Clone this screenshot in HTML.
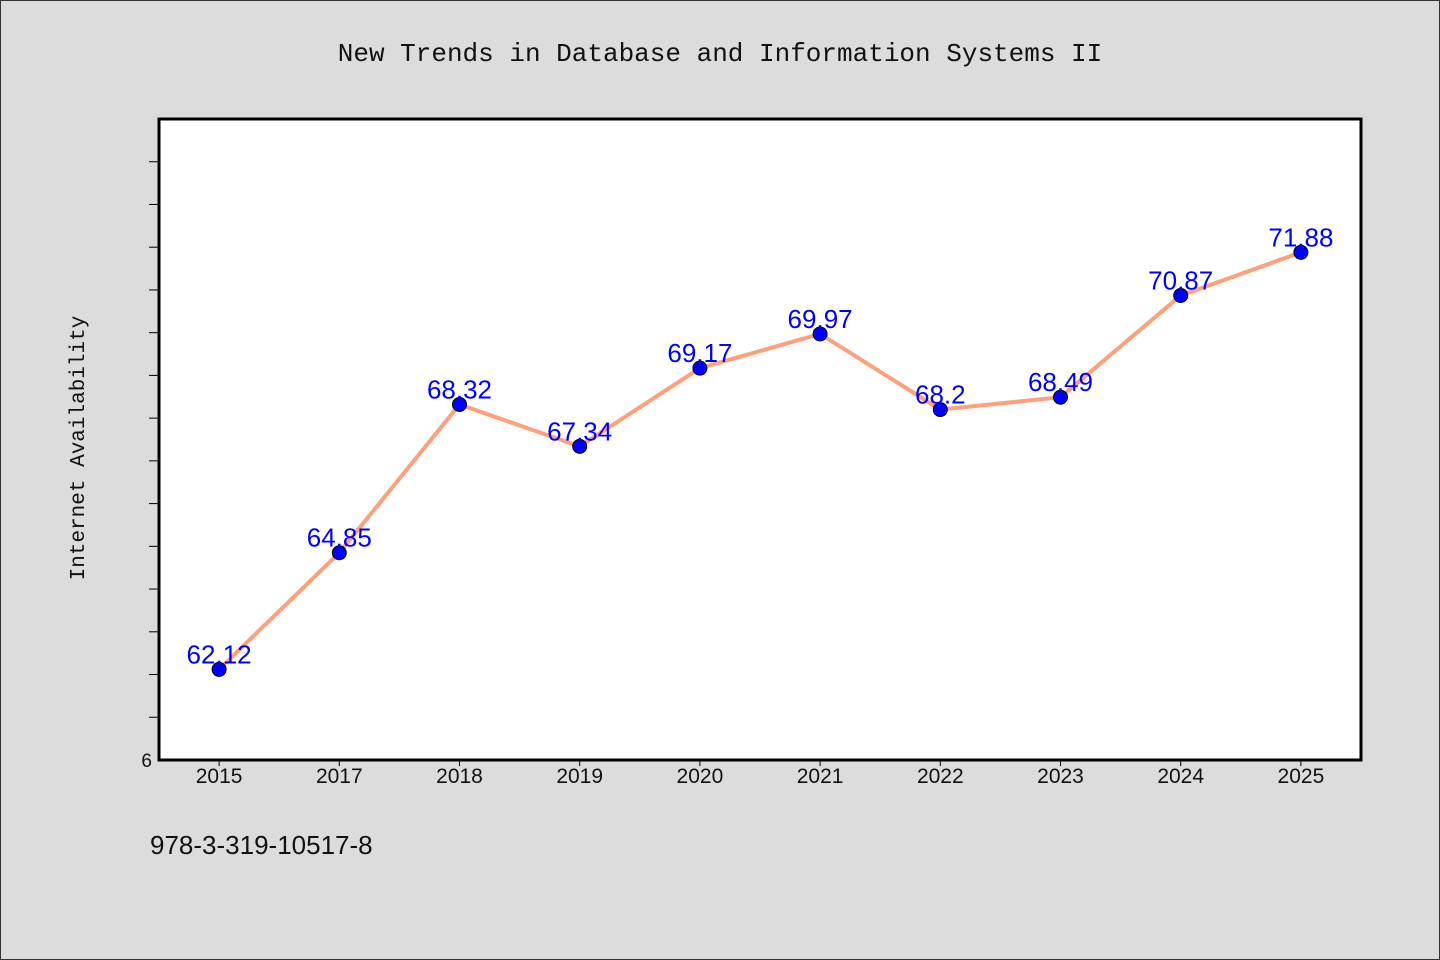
<!DOCTYPE html>
<html><head><meta charset="utf-8"><style>
body{margin:0;background:#dcdcdc;}
svg{display:block;}
</style></head><body>
<svg width="1440" height="960" xmlns="http://www.w3.org/2000/svg">
<rect x="0.5" y="0.5" width="1439" height="959" fill="#dcdcdc" stroke="#333"/>
<text x="720" y="61" text-anchor="middle" font-family="Liberation Mono, monospace" font-size="26" fill="#111">New Trends in Database and Information Systems II</text>
<rect x="159" y="119" width="1202" height="641" fill="#fff" stroke="#000" stroke-width="3"/>
<text transform="translate(84,448) rotate(-90)" text-anchor="middle" font-family="Liberation Mono, monospace" font-size="21" fill="#111">Internet Availability</text>
<text x="150" y="854" font-family="Liberation Sans, sans-serif" font-size="26" fill="#111">978-3-319-10517-8</text>
<g id="ticks"></g><g id="marks"></g>
</svg>
<script>
const categories=["2015","2017","2018","2019","2020","2021","2022","2023","2024","2025"];
const values=[62.12,64.85,68.32,67.34,69.17,69.97,68.2,68.49,70.87,71.88];
const labels=["62.12","64.85","68.32","67.34","69.17","69.97","68.2","68.49","70.87","71.88"];
const yMin=60,yMax=75;
const L=159,R=1361,T=119,B=760;
const NS="http://www.w3.org/2000/svg";
const bw=(R-L)/categories.length;
const x=i=>L+bw*(i+0.5);
const y=v=>B-(v-yMin)/(yMax-yMin)*(B-T);
function mk(t,a,p){const e=document.createElementNS(NS,t);for(const k in a)e.setAttribute(k,a[k]);p.appendChild(e);return e;}
const tk=document.getElementById('ticks'),mg=document.getElementById('marks');
for(let v=yMin+1;v<yMax;v++){
 const l=mk('line',{x1:149,x2:159,y1:y(v),y2:y(v),stroke:'#000','stroke-width':1},tk);
 
 
}
const yl=mk('text',{x:152,y:y(yMin)+7,'text-anchor':'end','font-family':'Liberation Sans, sans-serif','font-size':19,fill:'#111'},tk);
yl.textContent='6';


categories.forEach((c,i)=>{
 const l=mk('line',{x1:x(i),x2:x(i),y1:B,y2:B+6,stroke:'#000','stroke-width':1},tk);
 
 
 const t=mk('text',{x:x(i),y:B+23,'text-anchor':'middle','font-family':'Liberation Sans, sans-serif','font-size':21,fill:'#111'},tk);
 t.textContent=c;
 
 
});
const pl=mk('polyline',{points:values.map((v,i)=>x(i)+','+y(v)).join(' '),fill:'none',stroke:'#ffa07a','stroke-width':4},mg);


values.forEach((v,i)=>{
 const c=mk('circle',{cx:x(i),cy:y(v),r:7,fill:'#0000ff',stroke:'#000','stroke-width':1},mg);
 
 
 const t=mk('text',{x:x(i),y:y(v)-6,'text-anchor':'middle','font-family':'Liberation Sans, sans-serif','font-size':26,fill:'#0000ff'},mg);
 t.textContent=labels[i];
 
 
});
</script>
</body></html>
